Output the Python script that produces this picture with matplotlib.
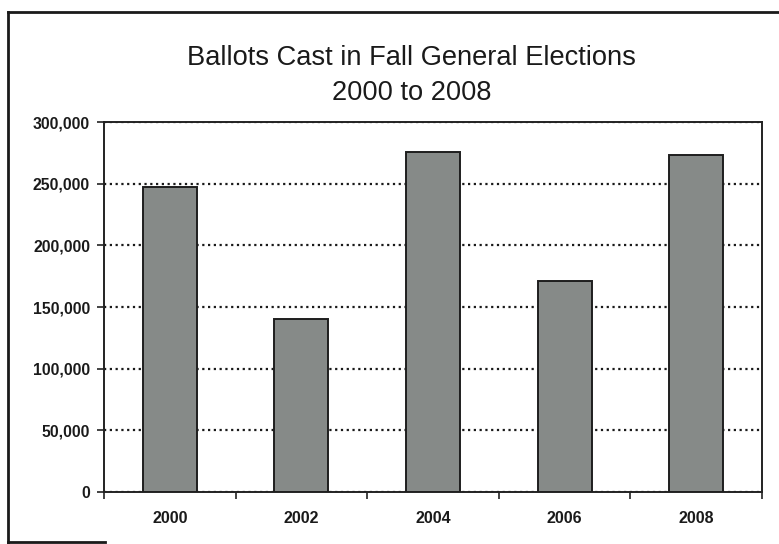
import matplotlib
matplotlib.use("Agg")
import matplotlib.pyplot as plt
from matplotlib.ticker import FuncFormatter, FixedLocator
from matplotlib.lines import Line2D

years = ["2000", "2002", "2004", "2006", "2008"]
ballots = [247000, 140000, 276000, 171000, 273000]

plt.rcParams['font.family'] = ['Liberation Sans', 'DejaVu Sans']

fig = plt.figure(figsize=(7.79, 5.44), dpi=100)
ax = fig.add_axes([0.1335, 0.0956, 0.8447, 0.6801])

x = list(range(len(years)))
ax.bar(x, ballots, width=0.41, color='#868a88', edgecolor='#1e1e1e', linewidth=1.4, zorder=3)

ax.set_xlim(-0.5, len(years) - 0.5)
ax.set_ylim(0, 300000)
ax.set_yticks(range(0, 300001, 50000))
ax.yaxis.set_major_formatter(FuncFormatter(lambda v, p: f"{int(v):,}"))
ax.set_xticks(x)
ax.set_xticklabels(years)
ax.xaxis.set_minor_locator(FixedLocator([i + 0.5 for i in range(-1, len(years))]))

ax.tick_params(axis='x', which='major', length=0, pad=14, labelsize=11.5)
ax.tick_params(axis='x', which='minor', length=5, width=1.2, color='#222')
ax.tick_params(axis='y', length=5, width=1.2, color='#222', labelsize=11.3, pad=5)
for lbl in ax.get_xticklabels() + ax.get_yticklabels():
    lbl.set_fontweight('bold')
    lbl.set_color('#1a1a1a')

ax.yaxis.grid(True, color='#1a1a1a', linestyle=(0, (1, 1.6)), linewidth=1.6, zorder=1)
for s in ax.spines.values():
    s.set_color('#222')
    s.set_linewidth(1.4)

fig.text(0.528, 0.893, "Ballots Cast in Fall General Elections", ha='center', va='center',
         fontsize=19.6, color='#1a1a1a')
fig.text(0.528, 0.829, "2000 to 2008", ha='center', va='center', fontsize=19.6, color='#1a1a1a')

# outer chart frame
W, H = 779, 544
frame = dict(color='#1a1a1a', linewidth=2.0, transform=fig.transFigure)
fig.add_artist(Line2D([8 / W, 1.0], [1 - 12 / H, 1 - 12 / H], **frame))
fig.add_artist(Line2D([8 / W, 8 / W], [1 - 12 / H, 0.0], **frame))
fig.add_artist(Line2D([8 / W, 105 / W], [1 - 542 / H, 1 - 542 / H], **frame))

fig.savefig("out.png", dpi=100)
